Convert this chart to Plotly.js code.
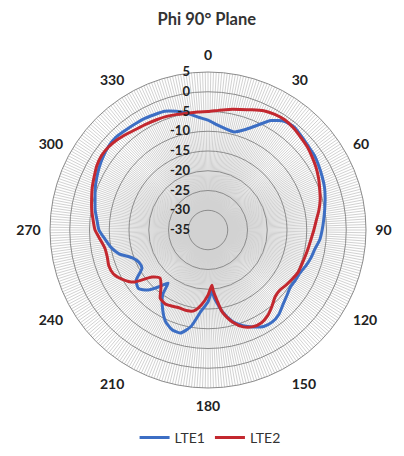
<!DOCTYPE html>
<html>
<head>
<meta charset="utf-8">
<script src="https://cdn.plot.ly/plotly-3.0.1.min.js"></script>
<style>html,body{margin:0;padding:0;background:#fff;}#chart{width:404px;height:456px;}</style>
</head>
<body>
<div id="chart"></div>
<script>
// Angles (degrees, clockwise from top)
const angles = [0,5,10,15,20,25,30,35,40,45,50,55,60,65,70,75,80,85,90,95,100,105,110,115,120,125,130,135,140,145,150,155,160,165,170,175,176,180,185,190,195,200,205,210,215,217,220,225,230,235,240,245,250,255,260,265,270,275,280,285,290,295,300,305,310,315,320,325,330,335,340,345,350,355,360];
// LTE1 gain (dB)
const lte1 = [-7.2,-8.3,-9.0,-9.3,-8.0,-5.8,-3.0,-1.4,-1.0,-1.5,-1.9,-2.1,-2.6,-3.1,-3.6,-4.3,-5.0,-5.6,-6.1,-6.6,-7.5,-8.0,-8.6,-9.3,-9.5,-9.6,-9.0,-8.2,-7.1,-6.6,-6.8,-7.9,-9.2,-11.0,-14.0,-18.0,-19.8,-16.8,-14.3,-10.2,-8.0,-8.2,-9.5,-12.0,-15.0,-18.2,-16.5,-13.5,-12.0,-12.8,-15.7,-15.7,-14.5,-11.7,-10.0,-8.8,-7.4,-6.8,-6.0,-5.4,-4.6,-3.9,-3.2,-2.6,-2.1,-1.9,-2.2,-2.4,-2.5,-2.8,-3.0,-3.9,-5.0,-6.3,-7.2];
// LTE2 gain (dB)
const lte2 = [-5.0,-4.6,-4.0,-3.4,-2.6,-1.7,-1.2,-1.0,-1.3,-1.8,-2.2,-2.8,-3.4,-4.1,-4.9,-5.6,-6.5,-7.5,-8.2,-8.8,-9.2,-9.5,-9.7,-9.8,-10.3,-10.8,-11.3,-11.0,-9.8,-8.6,-7.9,-8.0,-8.9,-10.8,-13.8,-19.5,-21.0,-18.5,-16.0,-14.2,-13.9,-14.0,-13.7,-13.4,-13.9,-15.0,-16.5,-17.8,-16.5,-12.0,-10.0,-8.6,-8.3,-8.6,-8.5,-7.6,-6.4,-5.8,-5.1,-4.5,-3.8,-3.2,-2.5,-2.1,-2.2,-2.6,-3.2,-3.7,-4.0,-4.2,-4.4,-4.7,-5.0,-5.0,-5.0];
const angleTicks = [0,30,60,90,120,150,180,210,240,270,300,330];
const radialTicks = [-35,-30,-25,-20,-15,-10,-5,0,5];
const seriesNames = ['LTE1','LTE2'];
const seriesColors = ['#3c6ec4','#c3282f'];

const traces = [
  // invisible carrier so the spoke subplot is rendered
  {type:'scatterpolar', r:[radialTicks[0]], theta:[angles[0]], mode:'lines', subplot:'polar',
   showlegend:false, hoverinfo:'skip', line:{width:0}}
].concat([lte1, lte2].map((v,i)=>({
  type:'scatterpolar', r:v, theta:angles, mode:'lines', name:seriesNames[i],
  subplot:'polar2', line:{color:seriesColors[i], width:3, shape:'spline', smoothing:0.6}
})));

const dom = {x:[50/404, 366/404], y:[68/456, 384/456]};
const layout = {
  width:404, height:456,
  margin:{l:0,r:0,t:0,b:0},
  paper_bgcolor:'#fff',
  font:{family:'Lato, "Noto Sans", sans-serif', color:'#222'},
  title:{text:'<b>Phi 90° Plane</b>', x:0.512, xanchor:'center', y:1-19/456, yanchor:'middle',
         font:{size:16.5, color:'#333', family:'Lato, "Noto Sans", sans-serif'}},
  showlegend:true,
  legend:{orientation:'h', x:0.52, xanchor:'center', y:1-438/456, yanchor:'middle', font:{size:14, color:'#333'}},
  polar:{
    domain:dom, bgcolor:'rgba(0,0,0,0)',
    angularaxis:{type:'linear', direction:'clockwise', rotation:90, tickmode:'linear', dtick:1, tick0:0,
                 showticklabels:false, ticks:'', showline:false, gridcolor:'#d2d2d2', gridwidth:1},
    radialaxis:{range:[-35,5], showgrid:false, showticklabels:false, showline:false, ticks:''}
  },
  polar2:{
    domain:dom, bgcolor:'rgba(0,0,0,0)',
    angularaxis:{direction:'clockwise', rotation:90, tickmode:'array', tickvals:angleTicks, ticktext:angleTicks.map(String),
                 showgrid:false, ticks:'outside', ticklen:6, tickcolor:'rgba(0,0,0,0)', showline:true, linecolor:'#8c8c8c', linewidth:1,
                 tickfont:{size:14, color:'#222', weight:'bold'}},
    radialaxis:{range:[-35,5], angle:90, side:'counterclockwise', tickmode:'array', tickvals:radialTicks, ticktext:radialTicks.map(String),
                showline:false, ticks:'outside', ticklen:13, tickcolor:'rgba(0,0,0,0)', gridcolor:'#8c8c8c', gridwidth:1, tickangle:90,
                tickfont:{size:13, color:'#222', weight:'bold'}}
  }
};
Plotly.newPlot('chart', traces, layout, {displayModeBar:false, staticPlot:true});
</script>
</body>
</html>
